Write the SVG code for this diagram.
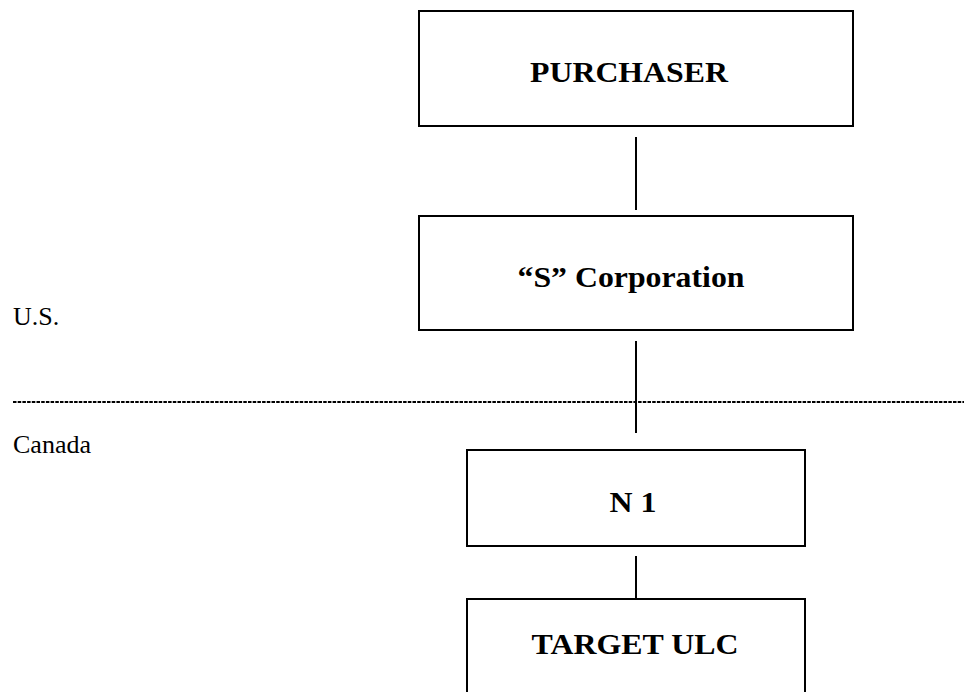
<svg xmlns="http://www.w3.org/2000/svg" width="964" height="692" viewBox="0 0 964 692">
<style>
.box{fill:#fff;stroke:#000;stroke-width:2}
.lbl{font-family:"Liberation Serif","Times New Roman",serif;font-weight:bold;font-size:30px;text-anchor:middle;fill:#000}
.reg{font-family:"Liberation Serif","Times New Roman",serif;font-size:26px;fill:#000}
.conn{stroke:#000;stroke-width:2;fill:none}
</style>
<rect width="964" height="692" fill="#fff"/>
<g id="connectors">
<line class="conn" x1="636" y1="137" x2="636" y2="210"/>
<line class="conn" x1="636" y1="341" x2="636" y2="433"/>
<line class="conn" x1="636" y1="556" x2="636" y2="599"/>
</g>
<g id="divider">
<line x1="13" y1="402" x2="964" y2="402" stroke="#000" stroke-width="2" stroke-dasharray="3.5 1.2"/>
<text class="reg" x="13" y="325">U.S.</text>
<text class="reg" x="13" y="453">Canada</text>
</g>
<g id="purchaser">
<rect class="box" x="419" y="11" width="434" height="115"/>
<text class="lbl" x="629" y="82" textLength="198" lengthAdjust="spacingAndGlyphs">PURCHASER</text>
</g>
<g id="s-corporation">
<rect class="box" x="419" y="216" width="434" height="114"/>
<text class="lbl" x="631" y="287" textLength="227" lengthAdjust="spacingAndGlyphs">“S” Corporation</text>
</g>
<g id="n1">
<rect class="box" x="467" y="450" width="338" height="96"/>
<text class="lbl" x="633" y="512" textLength="47" lengthAdjust="spacingAndGlyphs">N 1</text>
</g>
<g id="target-ulc">
<rect class="box" x="467" y="599" width="338" height="110"/>
<text class="lbl" x="635" y="654" textLength="207" lengthAdjust="spacingAndGlyphs">TARGET ULC</text>
</g>
</svg>
